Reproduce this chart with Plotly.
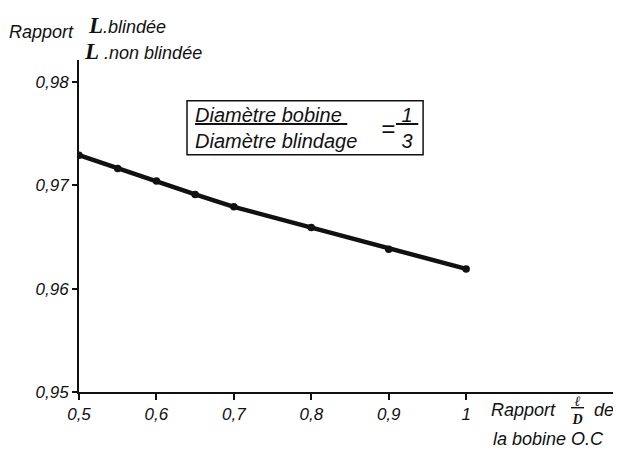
import plotly.graph_objects as go

# Data
ratio_lD = [0.5, 0.55, 0.6, 0.65, 0.7, 0.8, 0.9, 1.0]
ratio_L = [0.9729, 0.9716, 0.9704, 0.9691, 0.9679, 0.9659, 0.9638, 0.9619]

x_tickvals = [0.5, 0.6, 0.7, 0.8, 0.9, 1.0]
x_ticktext = ["0,5", "0,6", "0,7", "0,8", "0,9", "1"]
y_tickvals = [0.95, 0.96, 0.97, 0.98]
y_ticktext = ["0,95", "0,96", "0,97", "0,98"]

FONT = "Liberation Sans"
SERIF = "Liberation Serif"
ink = "#111111"

fig = go.Figure()
fig.add_trace(go.Scatter(
    x=ratio_lD, y=ratio_L, mode="lines+markers",
    line=dict(color=ink, width=4.5),
    marker=dict(color=ink, size=7.5),
    showlegend=False, hoverinfo="skip",
))

fig.update_layout(
    width=621, height=452,
    margin=dict(l=71, r=8, t=52, b=68),
    paper_bgcolor="white", plot_bgcolor="white",
    font=dict(family=FONT, color=ink, size=16),
    xaxis=dict(range=[0.5, 1.2], tickvals=x_tickvals, ticktext=x_ticktext,
               showgrid=False, zeroline=False, showline=True, linecolor=ink,
               linewidth=2, ticks="outside", ticklen=6, tickwidth=1.5, tickcolor=ink,
               tickfont=dict(family=FONT, size=17, style="italic")),
    yaxis=dict(range=[0.95, 0.9821], tickvals=y_tickvals, ticktext=y_ticktext,
               showgrid=False, zeroline=False, showline=True, linecolor=ink,
               linewidth=2, ticks="outside", ticklen=5, tickwidth=1.5, tickcolor=ink,
               tickfont=dict(family=FONT, size=17, style="italic")),
)

ann = []
def pa(x_px, y_px, text, size=16, anchor="left"):
    # x_px, y_px are page pixels; convert to paper coords
    px0, py0 = 79.0, 60.0
    pw, ph = 542.0, 332.0
    return dict(xref="paper", yref="paper", x=(x_px - px0) / pw, y=(py0 + ph - y_px) / ph,
                xanchor=anchor, yanchor="middle", showarrow=False, text=text,
                font=dict(family=FONT, size=size))

# y-axis title
ann.append(pa(7, 32, "<i>Rapport</i>", 18))
ann.append(pa(86, 25, f"<b style='font-family:{SERIF};font-size:23px'><i>L</i></b><i>.blindée</i>", 18))
ann.append(pa(82, 51, f"<b style='font-family:{SERIF};font-size:23px'><i>L</i></b><i> .non blindée</i>", 18))
# boxed ratio
ann.append(dict(xref="x", yref="y", x=0.6475, y=0.97555, xanchor="left", yanchor="middle",
                showarrow=False, align="left",
                text="<i><u>Diamètre bobine </u></i><br><i>Diamètre blindage</i>",
                font=dict(family=FONT, size=20)))
ann.append(dict(xref="x", yref="y", x=0.899, y=0.97545, xanchor="center", yanchor="middle",
                showarrow=False, text="<i>=</i>", font=dict(family=FONT, size=24)))
ann.append(dict(xref="x", yref="y", x=0.923, y=0.97555, xanchor="center", yanchor="middle",
                showarrow=False, text="<i><u> 1 </u></i><br><i>3</i>",
                font=dict(family=FONT, size=20)))
# x-axis title
ann.append(pa(489, 410, "<i>Rapport</i>", 18))
ann.append(pa(577, 410,
              f"<b style='font-family:{SERIF}'><i><u> ℓ </u></i></b><br><b style='font-family:{SERIF}'><i>D</i></b>",
              14, "center"))
ann.append(pa(592, 410, "<i>de</i>", 18))
ann.append(pa(491, 439, "<i>la bobine O.C</i>", 18))
fig.update_layout(annotations=ann)

# box around the diameter ratio
fig.add_shape(type="rect", xref="x", yref="y", x0=0.6395, x1=0.9444, y0=0.97294, y1=0.97817,
              line=dict(color=ink, width=1.5), fillcolor="rgba(0,0,0,0)")

fig.write_html("out.html")
